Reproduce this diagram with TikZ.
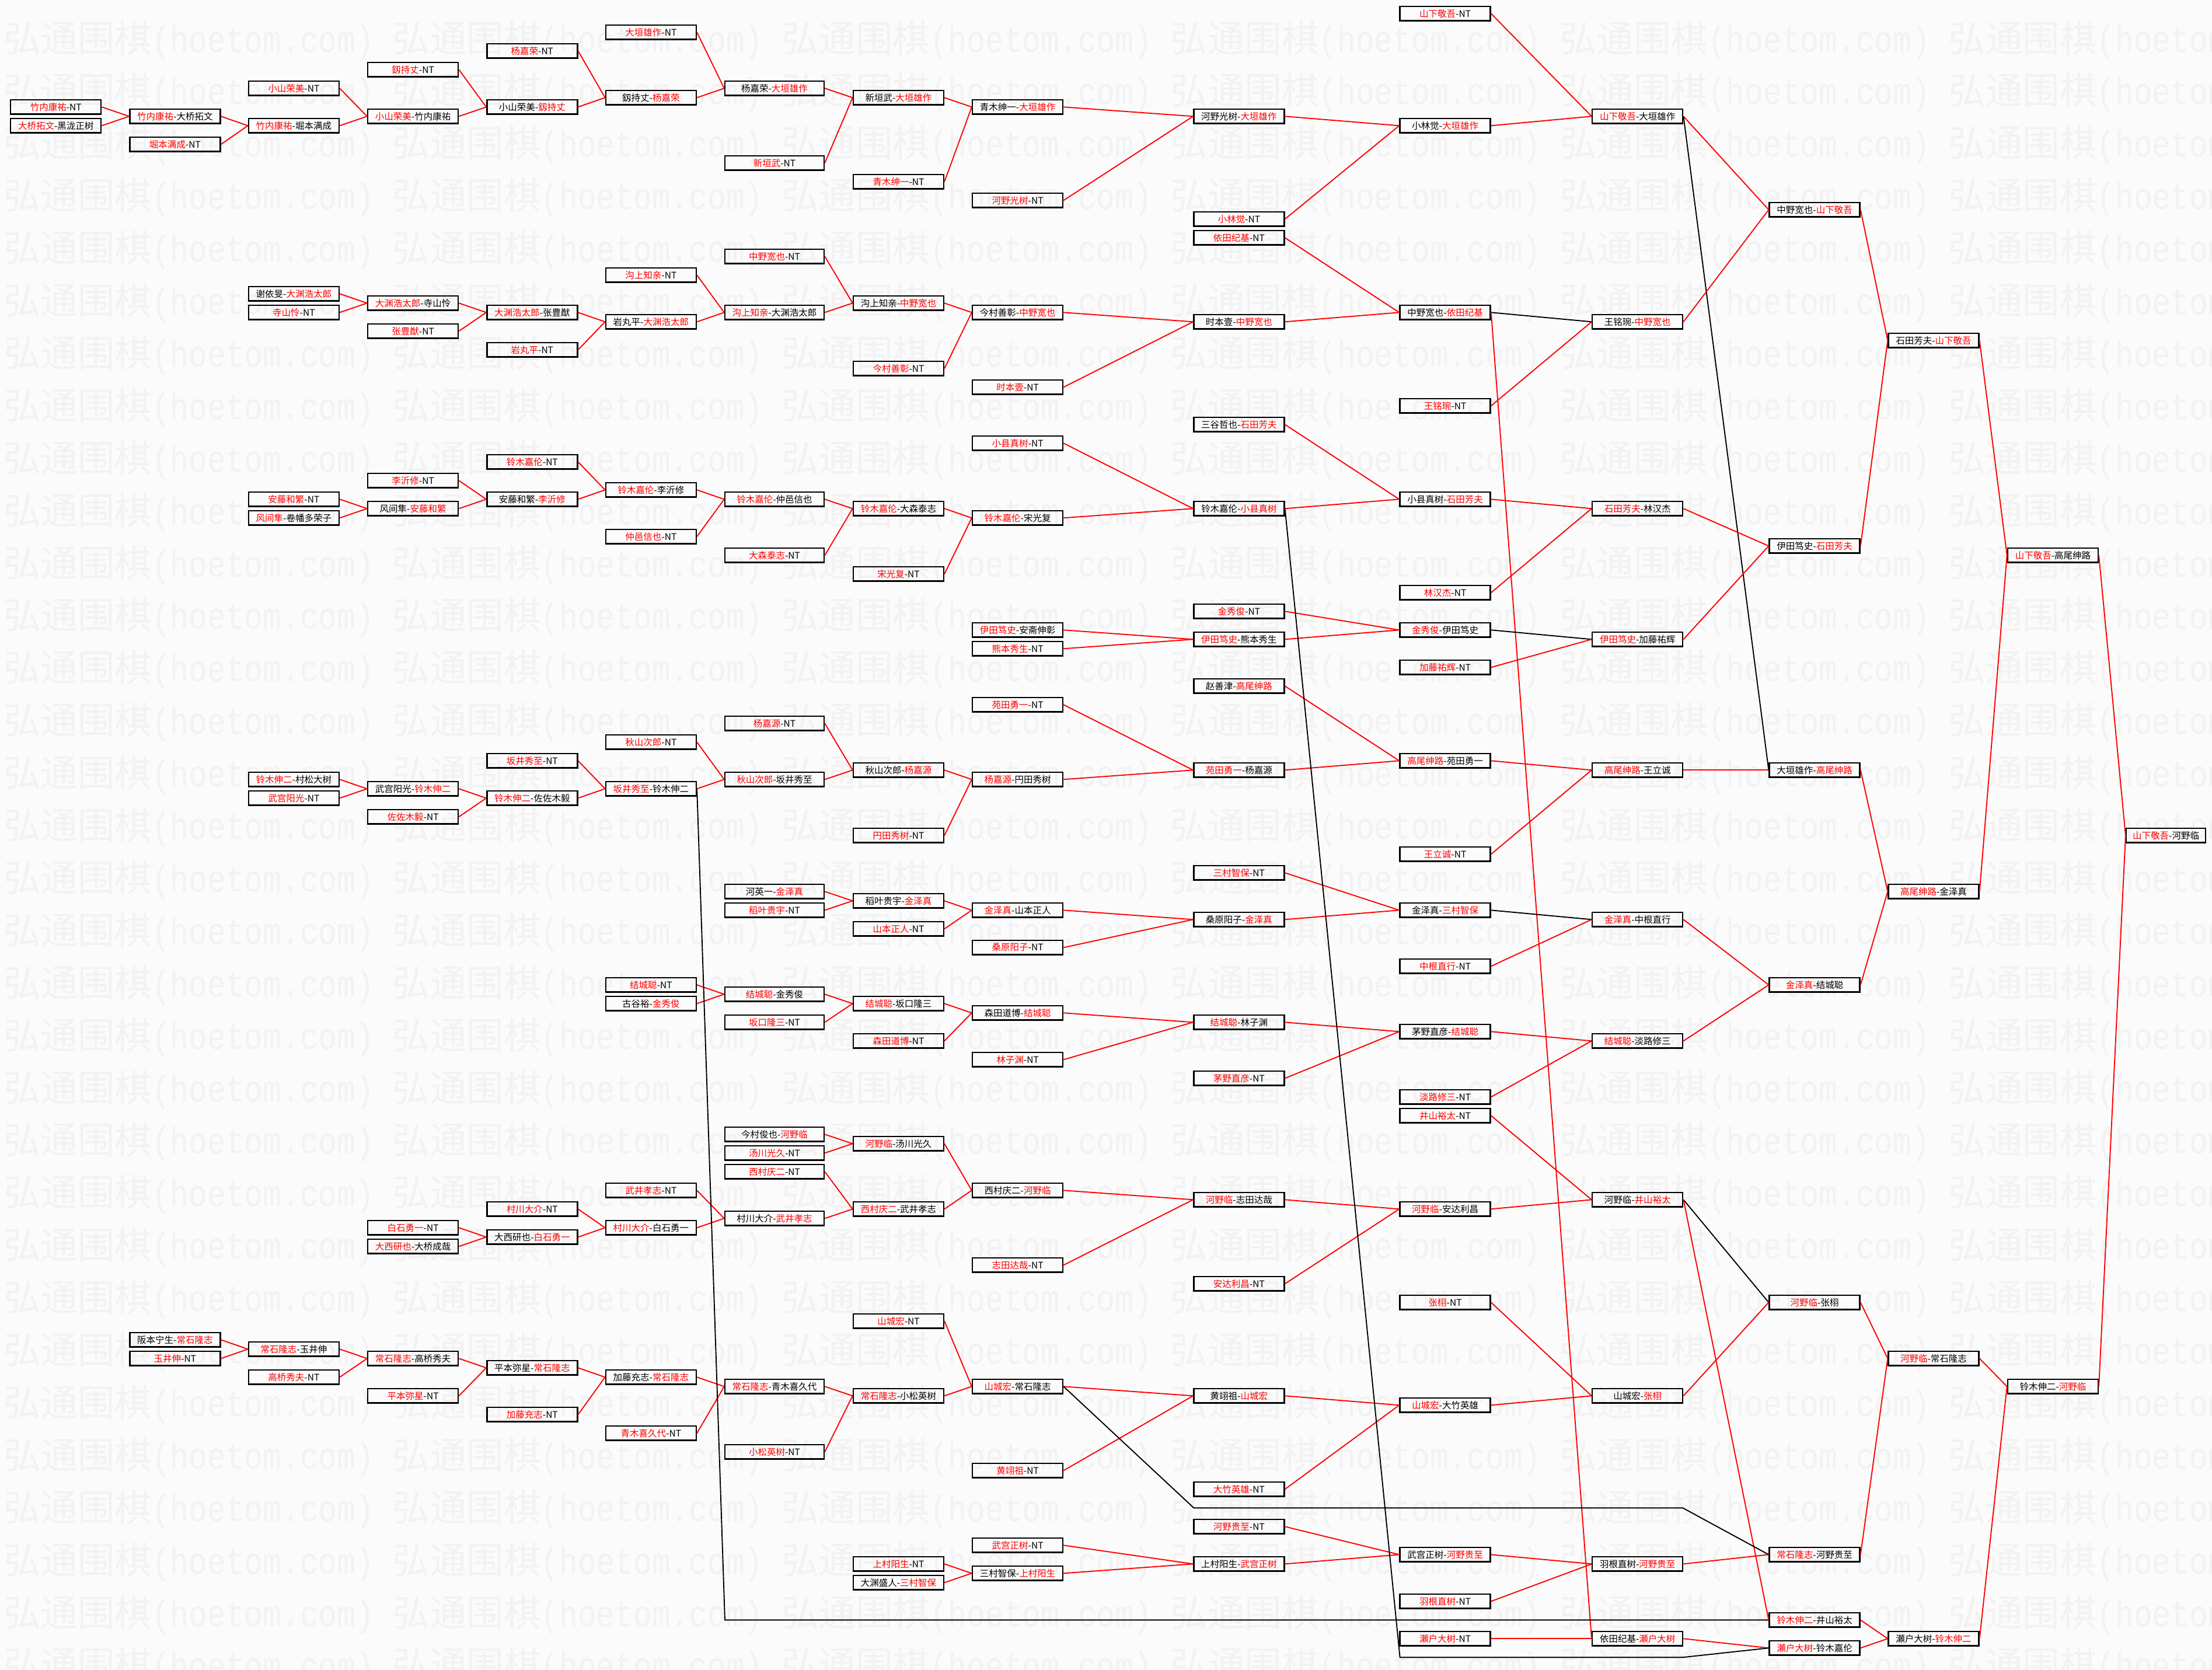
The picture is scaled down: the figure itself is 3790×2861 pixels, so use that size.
\documentclass[tikz,border=0pt]{standalone}
\usepackage{fontspec}
\usepackage{graphicx}
\newfontfamily\cjk{Noto Sans CJK SC}
\newfontfamily\wmmono{Liberation Mono}
\definecolor{wred}{RGB}{255,0,0}
\definecolor{pagebg}{RGB}{251,251,251}
\definecolor{wmark}{RGB}{242,242,242}
\newcommand\R[1]{\textcolor{wred}{#1}}
\newcommand\setcol[3]{\expandafter\def\csname colx#1\endcsname{#2}\expandafter\def\csname colw#1\endcsname{#3}}
\setcol{0}{95.7}{155}
\setcol{1}{299.9}{155}
\setcol{2}{503.4}{155}
\setcol{3}{707.6}{155}
\setcol{4}{911.8}{155}
\setcol{5}{1115.4}{155}
\setcol{6}{1327.0}{170}
\setcol{7}{1539.5}{155}
\setcol{8}{1743.6}{155}
\setcol{9}{2122.9}{155}
\setcol{10}{2476.1}{155}
\setcol{11}{2805.7}{155}
\setcol{12}{3109.1}{155}
\setcol{13}{3313.0}{155}
\setcol{14}{3517.4}{155}
\setcol{15}{3711.1}{136}
\newcommand\bx[3]{\edef\tmpx{\csname colx#1\endcsname}\edef\tmpw{\csname colw#1\endcsname}%
  \node[box, minimum width=\tmpw] (c#1k#2) at (\tmpx, {23.3+16*#2}) {#3};}
\newcommand\E[4]{\draw[rl] (c#1k#2.east) -- (c#3k#4.west);}
\newcommand\K[4]{\draw[bl] (c#1k#2.east) -- (c#3k#4.west);}
\newcommand\wmtext{{\cjk\fontsize{63.5}{63.5}\selectfont 弘通围棋}\scalebox{0.833}[1]{\wmmono\fontsize{63.5}{63.5}\selectfont (hoetom.com)}}
\begin{document}
\begin{tikzpicture}[x=1pt,y=-1pt,
  box/.style={draw=black, line width=2.4pt, minimum height=24.5pt, inner sep=0pt,
     font=\cjk\fontsize{15.5}{15.5}\selectfont},
  rl/.style={draw=wred, line width=1.9pt},
  bl/.style={draw=black, line width=1.9pt},
  wm/.style={inner sep=0pt, text=wmark, anchor=base west}]
\fill[pagebg] (0,0) rectangle (3790,2861);
\useasboundingbox (0,0) rectangle (3790,2861);
\begin{scope}
\clip (0,0) rectangle (3790,2861);
\foreach \j in {0,...,31}{\foreach \i in {0,...,5}{
  \node[wm] at ({6+666.5*\i},{89+89.9*\j}) {\wmtext};}}
\end{scope}
% ---- column 0
\bx{0}{10}{\R{竹内康祐}-NT}
\bx{0}{12}{\R{大桥拓文}-黑泷正树}
% ---- column 1
\bx{1}{11}{\R{竹内康祐}-大桥拓文}
\bx{1}{14}{\R{堀本满成}-NT}
\bx{1}{142}{阪本宁生-\R{常石隆志}}
\bx{1}{144}{\R{玉井伸}-NT}
% ---- column 2
\bx{2}{8}{\R{小山荣美}-NT}
\bx{2}{12}{\R{竹内康祐}-堀本满成}
\bx{2}{30}{谢依旻-\R{大渊浩太郎}}
\bx{2}{32}{\R{寺山怜}-NT}
\bx{2}{52}{\R{安藤和繁}-NT}
\bx{2}{54}{\R{风间隼}-卷幡多荣子}
\bx{2}{82}{\R{铃木伸二}-村松大树}
\bx{2}{84}{\R{武宫阳光}-NT}
\bx{2}{143}{\R{常石隆志}-玉井伸}
\bx{2}{146}{\R{高桥秀夫}-NT}
% ---- column 3
\bx{3}{6}{\R{釼持丈}-NT}
\bx{3}{11}{\R{小山荣美}-竹内康祐}
\bx{3}{31}{\R{大渊浩太郎}-寺山怜}
\bx{3}{34}{\R{张豊猷}-NT}
\bx{3}{50}{\R{李沂修}-NT}
\bx{3}{53}{风间隼-\R{安藤和繁}}
\bx{3}{83}{武宫阳光-\R{铃木伸二}}
\bx{3}{86}{\R{佐佐木毅}-NT}
\bx{3}{130}{\R{白石勇一}-NT}
\bx{3}{132}{\R{大西研也}-大桥成哉}
\bx{3}{144}{\R{常石隆志}-高桥秀夫}
\bx{3}{148}{\R{平本弥星}-NT}
% ---- column 4
\bx{4}{4}{\R{杨嘉荣}-NT}
\bx{4}{10}{小山荣美-\R{釼持丈}}
\bx{4}{32}{\R{大渊浩太郎}-张豊猷}
\bx{4}{36}{\R{岩丸平}-NT}
\bx{4}{48}{\R{铃木嘉伦}-NT}
\bx{4}{52}{安藤和繁-\R{李沂修}}
\bx{4}{80}{\R{坂井秀至}-NT}
\bx{4}{84}{\R{铃木伸二}-佐佐木毅}
\bx{4}{128}{\R{村川大介}-NT}
\bx{4}{131}{大西研也-\R{白石勇一}}
\bx{4}{145}{平本弥星-\R{常石隆志}}
\bx{4}{150}{\R{加藤充志}-NT}
% ---- column 5
\bx{5}{2}{\R{大垣雄作}-NT}
\bx{5}{9}{釼持丈-\R{杨嘉荣}}
\bx{5}{28}{\R{沟上知亲}-NT}
\bx{5}{33}{岩丸平-\R{大渊浩太郎}}
\bx{5}{51}{\R{铃木嘉伦}-李沂修}
\bx{5}{56}{\R{仲邑信也}-NT}
\bx{5}{78}{\R{秋山次郎}-NT}
\bx{5}{83}{\R{坂井秀至}-铃木伸二}
\bx{5}{104}{\R{结城聪}-NT}
\bx{5}{106}{古谷裕-\R{金秀俊}}
\bx{5}{126}{\R{武井孝志}-NT}
\bx{5}{130}{\R{村川大介}-白石勇一}
\bx{5}{146}{加藤充志-\R{常石隆志}}
\bx{5}{152}{\R{青木喜久代}-NT}
% ---- column 6
\bx{6}{8}{杨嘉荣-\R{大垣雄作}}
\bx{6}{16}{\R{新垣武}-NT}
\bx{6}{26}{\R{中野宽也}-NT}
\bx{6}{32}{\R{沟上知亲}-大渊浩太郎}
\bx{6}{52}{\R{铃木嘉伦}-仲邑信也}
\bx{6}{58}{\R{大森泰志}-NT}
\bx{6}{76}{\R{杨嘉源}-NT}
\bx{6}{82}{\R{秋山次郎}-坂井秀至}
\bx{6}{94}{河英一-\R{金泽真}}
\bx{6}{96}{\R{稻叶贵宇}-NT}
\bx{6}{105}{\R{结城聪}-金秀俊}
\bx{6}{108}{\R{坂口隆三}-NT}
\bx{6}{120}{今村俊也-\R{河野临}}
\bx{6}{122}{\R{汤川光久}-NT}
\bx{6}{124}{\R{西村庆二}-NT}
\bx{6}{129}{村川大介-\R{武井孝志}}
\bx{6}{147}{\R{常石隆志}-青木喜久代}
\bx{6}{154}{\R{小松英树}-NT}
% ---- column 7
\bx{7}{9}{新垣武-\R{大垣雄作}}
\bx{7}{18}{\R{青木绅一}-NT}
\bx{7}{31}{沟上知亲-\R{中野宽也}}
\bx{7}{38}{\R{今村善彰}-NT}
\bx{7}{53}{\R{铃木嘉伦}-大森泰志}
\bx{7}{60}{\R{宋光复}-NT}
\bx{7}{81}{秋山次郎-\R{杨嘉源}}
\bx{7}{88}{\R{円田秀树}-NT}
\bx{7}{95}{稻叶贵宇-\R{金泽真}}
\bx{7}{98}{\R{山本正人}-NT}
\bx{7}{106}{\R{结城聪}-坂口隆三}
\bx{7}{110}{\R{森田道博}-NT}
\bx{7}{121}{\R{河野临}-汤川光久}
\bx{7}{128}{\R{西村庆二}-武井孝志}
\bx{7}{140}{\R{山城宏}-NT}
\bx{7}{148}{\R{常石隆志}-小松英树}
\bx{7}{166}{\R{上村阳生}-NT}
\bx{7}{168}{大渊盛人-\R{三村智保}}
% ---- column 8
\bx{8}{10}{青木绅一-\R{大垣雄作}}
\bx{8}{20}{\R{河野光树}-NT}
\bx{8}{32}{今村善彰-\R{中野宽也}}
\bx{8}{40}{\R{时本壹}-NT}
\bx{8}{46}{\R{小县真树}-NT}
\bx{8}{54}{\R{铃木嘉伦}-宋光复}
\bx{8}{66}{\R{伊田笃史}-安斋伸彰}
\bx{8}{68}{\R{熊本秀生}-NT}
\bx{8}{74}{\R{苑田勇一}-NT}
\bx{8}{82}{\R{杨嘉源}-円田秀树}
\bx{8}{96}{\R{金泽真}-山本正人}
\bx{8}{100}{\R{桑原阳子}-NT}
\bx{8}{107}{森田道博-\R{结城聪}}
\bx{8}{112}{\R{林子渊}-NT}
\bx{8}{126}{西村庆二-\R{河野临}}
\bx{8}{134}{\R{志田达哉}-NT}
\bx{8}{147}{\R{山城宏}-常石隆志}
\bx{8}{156}{\R{黄翊祖}-NT}
\bx{8}{164}{\R{武宫正树}-NT}
\bx{8}{167}{三村智保-\R{上村阳生}}
% ---- column 9
\bx{9}{11}{河野光树-\R{大垣雄作}}
\bx{9}{22}{\R{小林觉}-NT}
\bx{9}{24}{\R{依田纪基}-NT}
\bx{9}{33}{时本壹-\R{中野宽也}}
\bx{9}{44}{三谷哲也-\R{石田芳夫}}
\bx{9}{53}{铃木嘉伦-\R{小县真树}}
\bx{9}{64}{\R{金秀俊}-NT}
\bx{9}{67}{\R{伊田笃史}-熊本秀生}
\bx{9}{72}{赵善津-\R{高尾绅路}}
\bx{9}{81}{\R{苑田勇一}-杨嘉源}
\bx{9}{92}{\R{三村智保}-NT}
\bx{9}{97}{桑原阳子-\R{金泽真}}
\bx{9}{108}{\R{结城聪}-林子渊}
\bx{9}{114}{\R{茅野直彦}-NT}
\bx{9}{127}{\R{河野临}-志田达哉}
\bx{9}{136}{\R{安达利昌}-NT}
\bx{9}{148}{黄翊祖-\R{山城宏}}
\bx{9}{158}{\R{大竹英雄}-NT}
\bx{9}{162}{\R{河野贵至}-NT}
\bx{9}{166}{上村阳生-\R{武宫正树}}
% ---- column 10
\bx{10}{0}{\R{山下敬吾}-NT}
\bx{10}{12}{小林觉-\R{大垣雄作}}
\bx{10}{32}{中野宽也-\R{依田纪基}}
\bx{10}{42}{\R{王铭琬}-NT}
\bx{10}{52}{小县真树-\R{石田芳夫}}
\bx{10}{62}{\R{林汉杰}-NT}
\bx{10}{66}{\R{金秀俊}-伊田笃史}
\bx{10}{70}{\R{加藤祐辉}-NT}
\bx{10}{80}{\R{高尾绅路}-苑田勇一}
\bx{10}{90}{\R{王立诚}-NT}
\bx{10}{96}{金泽真-\R{三村智保}}
\bx{10}{102}{\R{中根直行}-NT}
\bx{10}{109}{茅野直彦-\R{结城聪}}
\bx{10}{116}{\R{淡路修三}-NT}
\bx{10}{118}{\R{井山裕太}-NT}
\bx{10}{128}{\R{河野临}-安达利昌}
\bx{10}{138}{\R{张栩}-NT}
\bx{10}{149}{\R{山城宏}-大竹英雄}
\bx{10}{165}{武宫正树-\R{河野贵至}}
\bx{10}{170}{\R{羽根直树}-NT}
\bx{10}{174}{\R{瀬户大树}-NT}
% ---- column 11
\bx{11}{11}{\R{山下敬吾}-大垣雄作}
\bx{11}{33}{王铭琬-\R{中野宽也}}
\bx{11}{53}{\R{石田芳夫}-林汉杰}
\bx{11}{67}{\R{伊田笃史}-加藤祐辉}
\bx{11}{81}{\R{高尾绅路}-王立诚}
\bx{11}{97}{\R{金泽真}-中根直行}
\bx{11}{110}{\R{结城聪}-淡路修三}
\bx{11}{127}{河野临-\R{井山裕太}}
\bx{11}{148}{山城宏-\R{张栩}}
\bx{11}{166}{羽根直树-\R{河野贵至}}
\bx{11}{174}{依田纪基-\R{瀬户大树}}
% ---- column 12
\bx{12}{21}{中野宽也-\R{山下敬吾}}
\bx{12}{57}{伊田笃史-\R{石田芳夫}}
\bx{12}{81}{大垣雄作-\R{高尾绅路}}
\bx{12}{104}{\R{金泽真}-结城聪}
\bx{12}{138}{\R{河野临}-张栩}
\bx{12}{165}{\R{常石隆志}-河野贵至}
\bx{12}{172}{\R{铃木伸二}-井山裕太}
\bx{12}{175}{\R{瀬户大树}-铃木嘉伦}
% ---- column 13
\bx{13}{35}{石田芳夫-\R{山下敬吾}}
\bx{13}{94}{\R{高尾绅路}-金泽真}
\bx{13}{144}{\R{河野临}-常石隆志}
\bx{13}{174}{瀬户大树-\R{铃木伸二}}
% ---- column 14
\bx{14}{58}{\R{山下敬吾}-高尾绅路}
\bx{14}{147}{铃木伸二-\R{河野临}}
% ---- column 15
\bx{15}{88}{\R{山下敬吾}-河野临}
% ---- connectors
\E{0}{10}{1}{11}\E{0}{12}{1}{11}\E{1}{11}{2}{12}\E{1}{14}{2}{12}
\E{2}{8}{3}{11}\E{2}{12}{3}{11}\E{3}{6}{4}{10}\E{3}{11}{4}{10}
\E{4}{4}{5}{9}\E{4}{10}{5}{9}\E{5}{2}{6}{8}\E{5}{9}{6}{8}
\E{6}{8}{7}{9}\E{6}{16}{7}{9}\E{7}{9}{8}{10}\E{7}{18}{8}{10}
\E{8}{10}{9}{11}\E{8}{20}{9}{11}\E{9}{11}{10}{12}\E{9}{22}{10}{12}
\E{10}{12}{11}{11}\E{10}{0}{11}{11}\E{11}{11}{12}{21}\K{11}{11}{12}{81}
\E{9}{24}{10}{32}\E{9}{33}{10}{32}
\E{2}{30}{3}{31}\E{2}{32}{3}{31}\E{3}{31}{4}{32}\E{3}{34}{4}{32}
\E{4}{32}{5}{33}\E{4}{36}{5}{33}\E{5}{28}{6}{32}\E{5}{33}{6}{32}
\E{6}{26}{7}{31}\E{6}{32}{7}{31}\E{7}{31}{8}{32}\E{7}{38}{8}{32}
\E{8}{32}{9}{33}\E{8}{40}{9}{33}
\K{10}{32}{11}{33}\E{10}{42}{11}{33}\E{10}{32}{11}{174}\E{11}{33}{12}{21}
\E{2}{52}{3}{53}\E{2}{54}{3}{53}\E{3}{50}{4}{52}\E{3}{53}{4}{52}
\E{4}{48}{5}{51}\E{4}{52}{5}{51}\E{5}{51}{6}{52}\E{5}{56}{6}{52}
\E{6}{52}{7}{53}\E{6}{58}{7}{53}\E{7}{53}{8}{54}\E{7}{60}{8}{54}
\E{8}{46}{9}{53}\E{8}{54}{9}{53}\E{9}{44}{10}{52}\E{9}{53}{10}{52}
\E{10}{52}{11}{53}\E{10}{62}{11}{53}\E{11}{53}{12}{57}\E{11}{67}{12}{57}
\E{12}{21}{13}{35}\E{12}{57}{13}{35}\E{13}{35}{14}{58}\E{13}{94}{14}{58}
\E{14}{58}{15}{88}\E{14}{147}{15}{88}
\E{8}{66}{9}{67}\E{8}{68}{9}{67}\E{9}{64}{10}{66}\E{9}{67}{10}{66}
\K{10}{66}{11}{67}\E{10}{70}{11}{67}
\E{8}{74}{9}{81}\E{8}{82}{9}{81}\E{9}{72}{10}{80}\E{9}{81}{10}{80}
\E{10}{80}{11}{81}\E{10}{90}{11}{81}\E{11}{81}{12}{81}
\E{12}{81}{13}{94}\E{12}{104}{13}{94}
\E{2}{82}{3}{83}\E{2}{84}{3}{83}\E{3}{83}{4}{84}\E{3}{86}{4}{84}
\E{4}{80}{5}{83}\E{4}{84}{5}{83}\E{5}{78}{6}{82}\E{5}{83}{6}{82}
\E{6}{76}{7}{81}\E{6}{82}{7}{81}\E{7}{81}{8}{82}\E{7}{88}{8}{82}
\E{6}{94}{7}{95}\E{6}{96}{7}{95}\E{7}{95}{8}{96}\E{7}{98}{8}{96}
\E{8}{96}{9}{97}\E{8}{100}{9}{97}\E{9}{92}{10}{96}\E{9}{97}{10}{96}
\K{10}{96}{11}{97}\E{10}{102}{11}{97}\E{11}{97}{12}{104}\E{11}{110}{12}{104}
\E{5}{104}{6}{105}\E{5}{106}{6}{105}\E{6}{105}{7}{106}\E{6}{108}{7}{106}
\E{7}{106}{8}{107}\E{7}{110}{8}{107}\E{8}{107}{9}{108}\E{8}{112}{9}{108}
\E{9}{108}{10}{109}\E{9}{114}{10}{109}\E{10}{109}{11}{110}\E{10}{116}{11}{110}
\E{6}{120}{7}{121}\E{6}{122}{7}{121}\E{6}{124}{7}{128}\E{6}{129}{7}{128}
\E{7}{121}{8}{126}\E{7}{128}{8}{126}\E{8}{126}{9}{127}\E{8}{134}{9}{127}
\E{9}{127}{10}{128}\E{9}{136}{10}{128}\E{10}{128}{11}{127}\E{10}{118}{11}{127}
\K{11}{127}{12}{138}\E{11}{127}{12}{172}\E{11}{148}{12}{138}
\E{12}{138}{13}{144}\E{12}{165}{13}{144}\E{13}{144}{14}{147}\E{13}{174}{14}{147}
\E{4}{128}{5}{130}\E{4}{131}{5}{130}\E{3}{130}{4}{131}\E{3}{132}{4}{131}
\E{5}{126}{6}{129}\E{5}{130}{6}{129}
\E{1}{142}{2}{143}\E{1}{144}{2}{143}\E{2}{143}{3}{144}\E{2}{146}{3}{144}
\E{3}{144}{4}{145}\E{3}{148}{4}{145}\E{4}{145}{5}{146}\E{4}{150}{5}{146}
\E{5}{146}{6}{147}\E{5}{152}{6}{147}\E{6}{147}{7}{148}\E{6}{154}{7}{148}
\E{7}{140}{8}{147}\E{7}{148}{8}{147}\E{8}{147}{9}{148}\E{8}{156}{9}{148}
\E{9}{148}{10}{149}\E{9}{158}{10}{149}\E{10}{138}{11}{148}\E{10}{149}{11}{148}
\E{7}{166}{8}{167}\E{7}{168}{8}{167}\E{8}{164}{9}{166}\E{8}{167}{9}{166}
\E{9}{162}{10}{165}\E{9}{166}{10}{165}\E{10}{165}{11}{166}\E{10}{170}{11}{166}
\E{11}{166}{12}{165}\E{10}{174}{11}{174}\E{11}{174}{12}{175}
\E{12}{172}{13}{174}\E{12}{175}{13}{174}
% ---- long black routes
\coordinate (ja) at (1242.0,{23.3+16*172});
\draw[bl] (c5k83.east) -- (ja) -- (c12k172.west);
\coordinate (jb1) at (2398.6,{23.3+16*176});
\coordinate (jb2) at (2883.2,{23.3+16*176});
\draw[bl] (c9k53.east) -- (jb1) -- (jb2) -- (c12k175.west);
\coordinate (jc1) at (2045.4,{23.3+16*160});
\coordinate (jc2) at (2883.2,{23.3+16*160});
\draw[bl] (c8k147.east) -- (jc1) -- (jc2) -- (c12k165.west);
\end{tikzpicture}
\end{document}
